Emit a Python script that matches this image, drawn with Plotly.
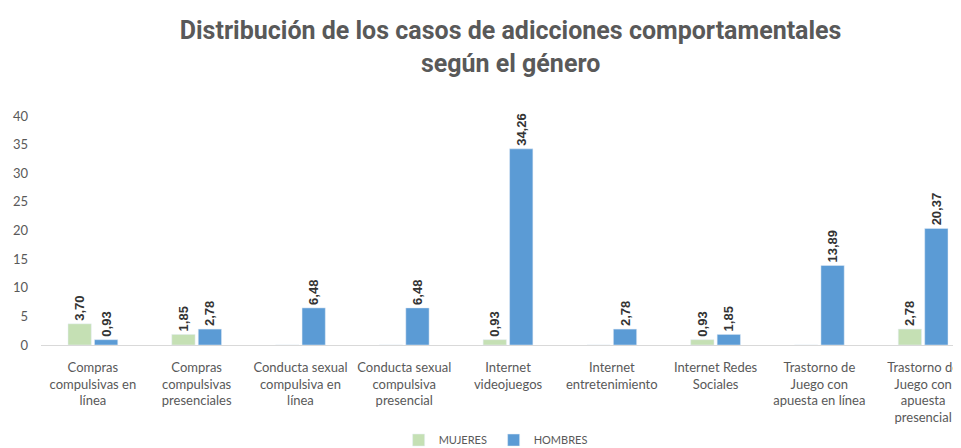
import plotly.graph_objects as go

categorias = ['Compras<br>compulsivas en<br>línea', 'Compras<br>compulsivas<br>presenciales',
              'Conducta sexual<br>compulsiva en<br>línea', 'Conducta sexual<br>compulsiva<br>presencial',
              'Internet<br>videojuegos', 'Internet<br>entretenimiento', 'Internet Redes<br>Sociales',
              'Trastorno de<br>Juego con<br>apuesta en línea', 'Trastorno de<br>Juego con<br>apuesta<br>presencial']
mujeres = [3.70, 1.85, 0, 0, 0.93, 0, 0.93, 0, 2.78]
hombres = [0.93, 2.78, 6.48, 6.48, 34.26, 2.78, 1.85, 13.89, 20.37]


def etiqueta(v):
    # formato con coma decimal, sin etiqueta para ceros
    return f'{v:.2f}'.replace('.', ',') if v > 0 else ''


fig = go.Figure()
fig.add_trace(go.Bar(x=categorias, y=mujeres, name='MUJERES', marker_color='#C5E0B4',
                     text=[etiqueta(v) for v in mujeres]))
fig.add_trace(go.Bar(x=categorias, y=hombres, name='HOMBRES', marker_color='#5B9BD5',
                     text=[etiqueta(v) for v in hombres]))

fig.update_traces(textposition='outside', textangle=-90, cliponaxis=False,
                  textfont=dict(family='Liberation Sans, Arial', size=13, color='#333333'),
                  texttemplate='<b>%{text}</b>')

fig.update_layout(
    title=dict(text='<b>Distribución de los casos de adicciones comportamentales<br>según el género</b>',
               x=0.523, xanchor='center', y=0.93, yanchor='middle',
               font=dict(family='Roboto, Liberation Sans', size=25, color='#595959')),
    width=961, height=448,
    plot_bgcolor='white', paper_bgcolor='white',
    margin=dict(l=33, r=8, t=108, b=111, autoexpand=False),
    barmode='group', bargap=0.49, bargroupgap=0.12,
    uniformtext=dict(minsize=13, mode='show'),
    font=dict(family='Lato, Open Sans', size=12, color='#595959'),
    legend=dict(orientation='h', x=0.492, xanchor='center', y=-0.415, yanchor='middle',
                entrywidth=50, itemwidth=30, font=dict(size=11, color='#595959')),
    showlegend=True,
)
fig.update_yaxes(range=[0, 40], dtick=5, showgrid=False, zeroline=False, showline=False,
                 automargin=False, ticklabelstandoff=12, tickfont=dict(size=13, color='#595959'))
fig.update_xaxes(range=[-0.5, 8.365], showline=True, linecolor='#D9D9D9', linewidth=1,
                 automargin=False, ticklabelstandoff=10, tickfont=dict(size=13, color='#595959'))

fig.write_html('out.html')
